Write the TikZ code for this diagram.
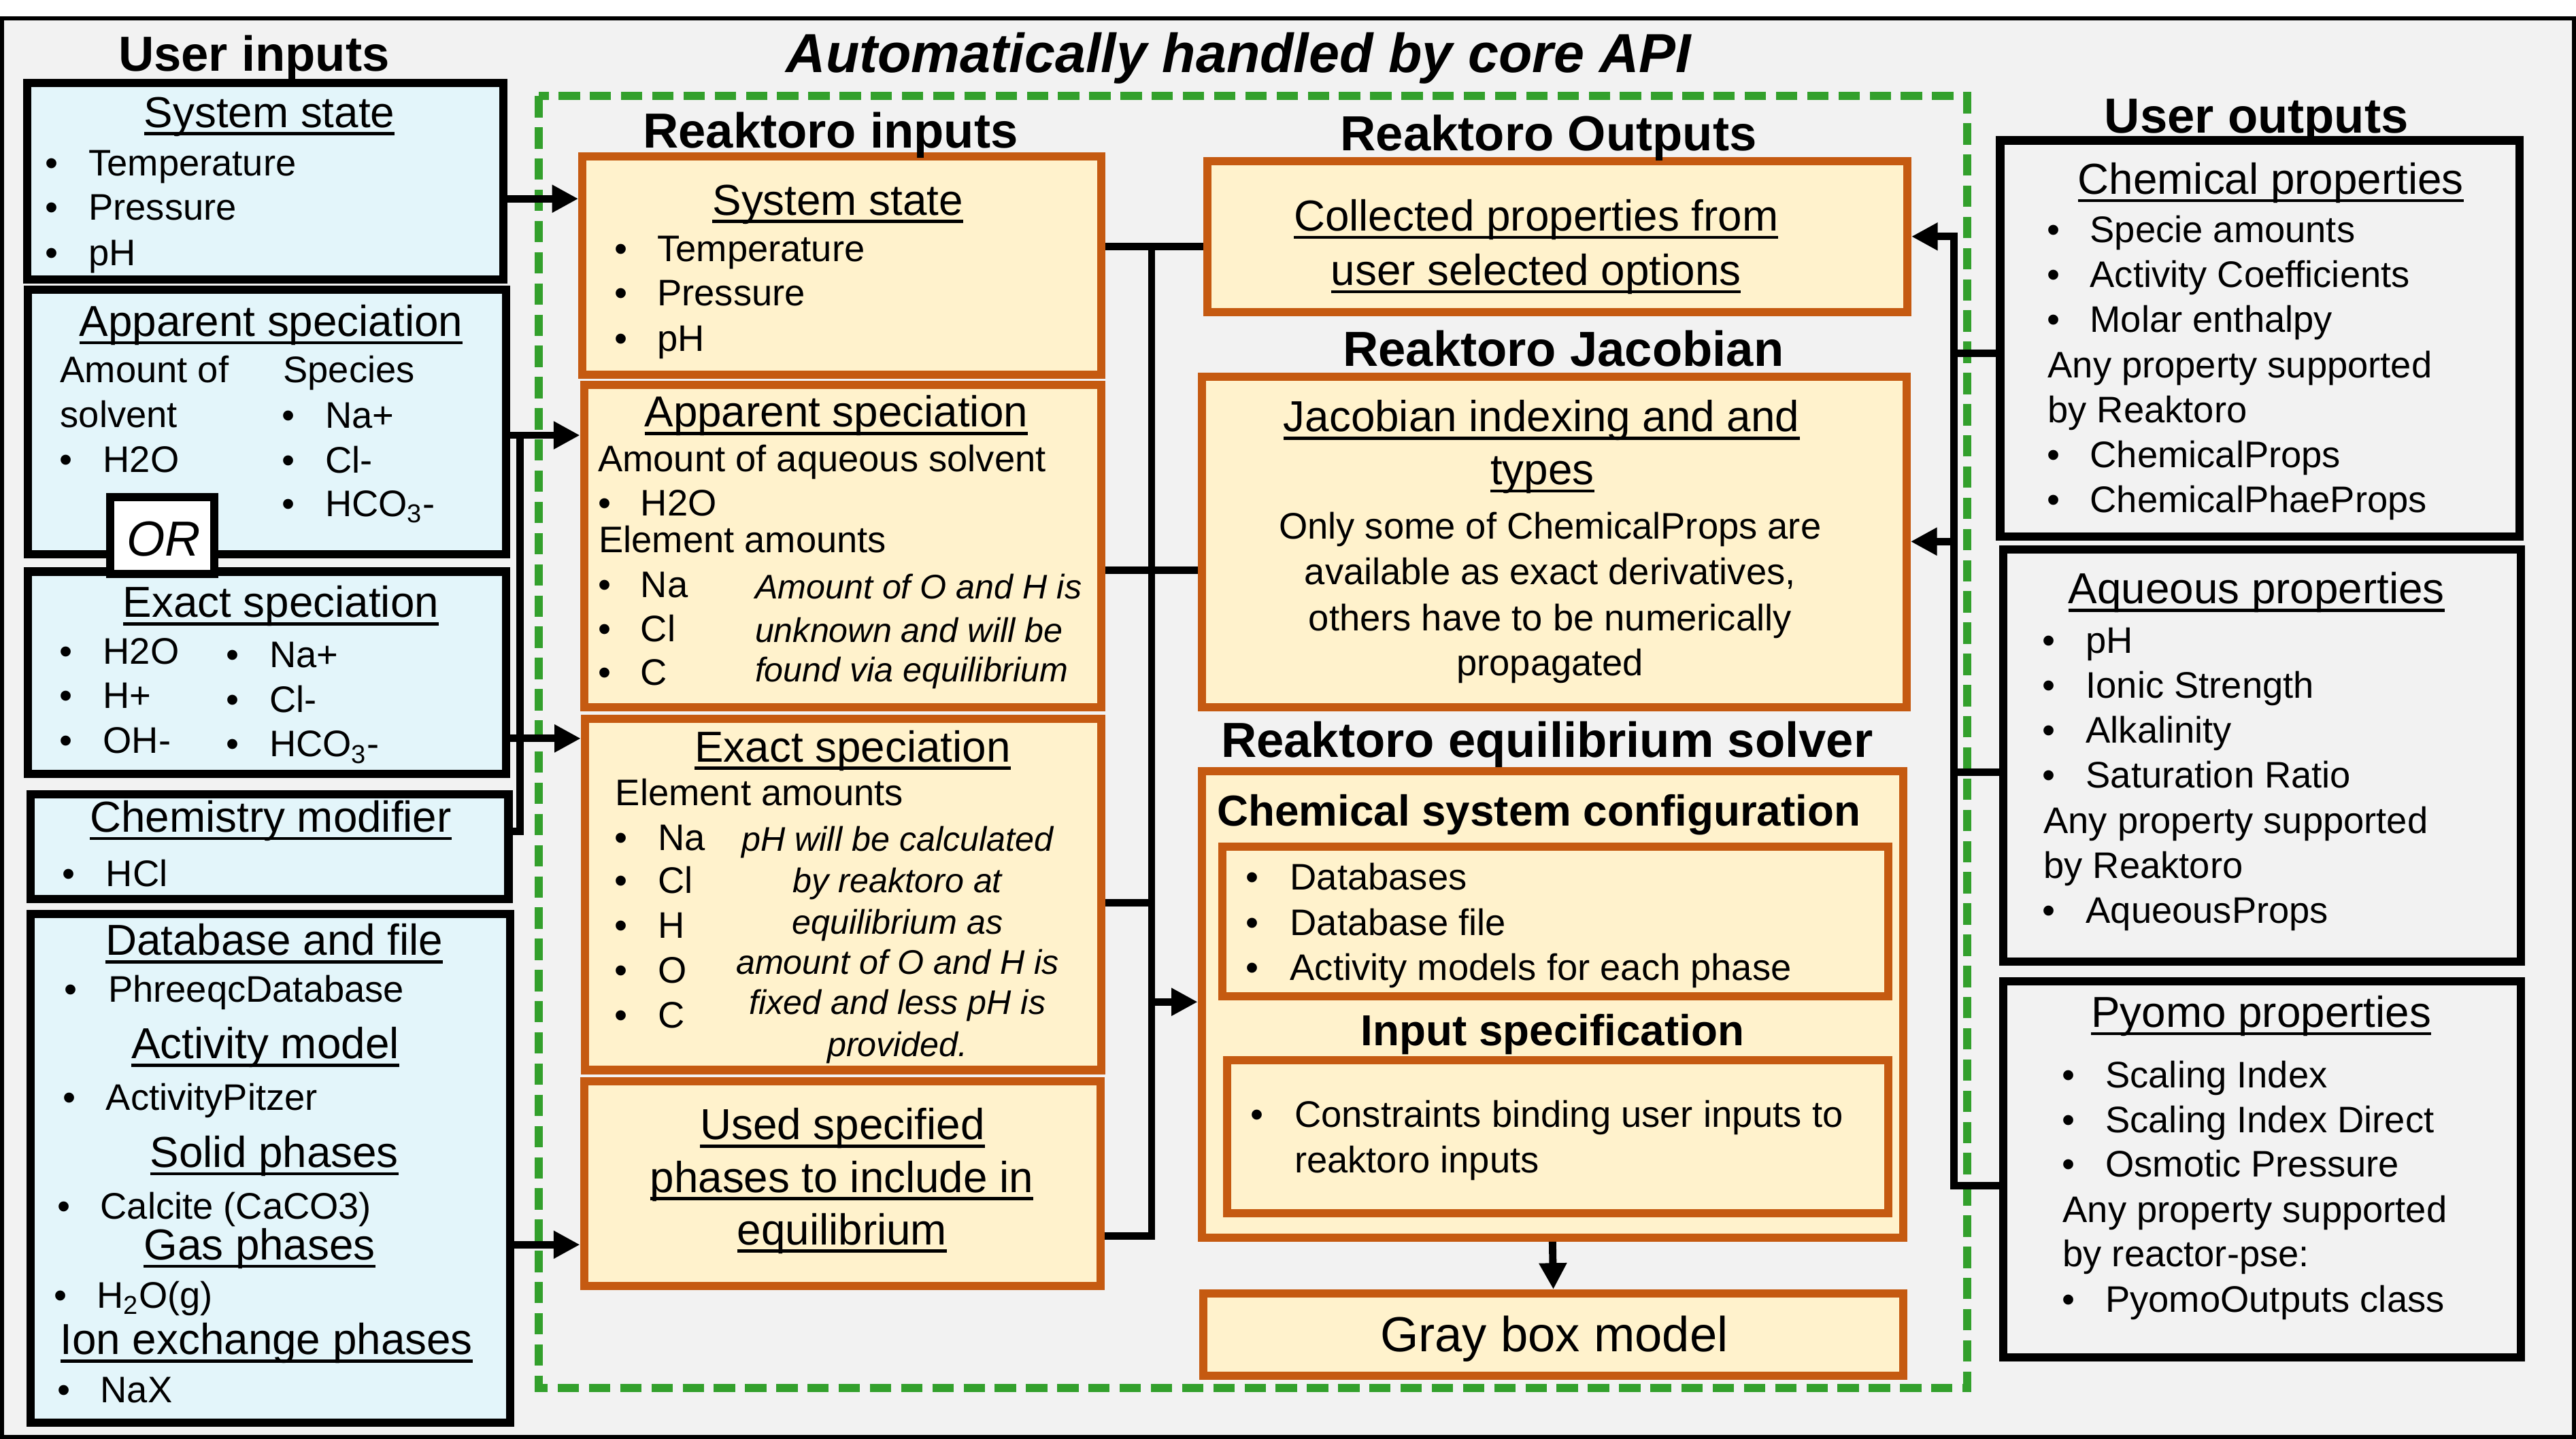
\documentclass[tikz,border=0pt]{standalone}
\usepackage{fontspec}
\setmainfont{Liberation Sans}
\usetikzlibrary{arrows.meta,calc}
\definecolor{bgc}{HTML}{F2F2F2}
\definecolor{ublue}{HTML}{E3F5FA}
\definecolor{orng}{HTML}{C55A11}
\definecolor{cream}{HTML}{FFF2CC}
\definecolor{grn}{HTML}{33A02C}
\newcommand\myul[1]{\setbox0\hbox{#1}\rlap{\rule[-0.185em]{\wd0}{0.07em}}\box0}
\newcommand\bx[6]{\node[#1,minimum width={#5-#3},minimum height={#6-#4}] (#2) at ({(#3+#5)/2},{(#4+#6)/2}) {};}
\newcommand\tw[5]{\node[#1,anchor=west] (#2) at (#3,#4) {#5};}
\newcommand\tcn[5]{\node[#1] (#2) at (#3,#4) {#5};}
\newcommand\bu[5]{\node[tbody] (#1b) at (#2,#4) {•};\node[tbody,anchor=west] (#1) at (#3,#4) {#5};}
\tikzset{
 tbody/.style={inner sep=0pt,outer sep=0pt,text height=16.1pt,text depth=0pt,font=\fontsize{22.5}{27}\selectfont},
 tital/.style={inner sep=0pt,outer sep=0pt,text height=14.9pt,text depth=0pt,font=\fontsize{20.8}{25}\selectfont\itshape},
 tsub/.style={inner sep=0pt,outer sep=0pt,text height=18.9pt,text depth=0pt,font=\fontsize{26.4}{32}\selectfont},
 tsubb/.style={inner sep=0pt,outer sep=0pt,text height=18.9pt,text depth=0pt,font=\fontsize{26.4}{32}\selectfont\bfseries},
 thead/.style={inner sep=0pt,outer sep=0pt,text height=21.5pt,text depth=0pt,font=\fontsize{30}{36}\selectfont\bfseries},
 ubox/.style={draw=black,line width=5pt,fill=ublue,inner sep=0pt},
 orbox/.style={draw=black,line width=5pt,fill=white,inner sep=0pt},
 obox/.style={draw=orng,line width=5pt,fill=cream,inner sep=0pt},
 rbox/.style={draw=black,line width=5pt,inner sep=0pt},
 lnw/.style={line width=4.5pt},
 arrw/.style={line width=4.5pt,-{Triangle[length=16pt,width=16pt]}},
}
\begin{document}
\begin{tikzpicture}[x=1pt,y=-1pt]
\useasboundingbox (0,0) rectangle (1568,876);
\fill[white] (0,0) rectangle (1568,876);
\draw[line width=2.5pt,fill=bgc] (1.25,11.25) rectangle (1566.75,874.75);
\draw[grn,line width=5pt,dash pattern=on 13pt off 6pt] (328,58.5) rectangle (1197.5,845);

% boxes
\bx{ubox}{uss}{16.5}{50.5}{306.5}{170}
\bx{ubox}{uap}{17}{176.5}{308}{337.5}
\bx{ubox}{uex}{17}{348}{308}{471}
\bx{ubox}{ucm}{18.5}{483.5}{309.5}{547.5}
\bx{ubox}{udb}{18.5}{556.5}{310.5}{866}
\bx{orbox}{orb}{67}{302.5}{130.5}{349.5}
\bx{obox}{rss}{354.5}{95.3}{670.5}{228}
\bx{obox}{rap}{355.5}{234.5}{670.5}{430.5}
\bx{obox}{rex}{356}{437.5}{670.5}{651.5}
\bx{obox}{rus}{355.5}{658.5}{670}{783}
\bx{obox}{rco}{735}{98}{1161}{190}
\bx{obox}{rjac}{731.5}{229.5}{1160.5}{430.5}
\bx{obox}{rsol}{731.5}{469.5}{1158.5}{753.5}
\bx{obox}{rcfg}{744}{515.5}{1149.5}{606.5}
\bx{obox}{rinp}{747}{645.5}{1149.5}{738.5}
\bx{obox}{rgb}{732.5}{787.5}{1158.5}{837.5}
\bx{rbox}{uchem}{1217.5}{85.5}{1533.5}{326.5}
\bx{rbox}{uaq}{1219.5}{334.5}{1534.5}{585.5}
\bx{rbox}{upy}{1219.5}{597.5}{1534.5}{826.5}

% connector coordinates
\coordinate (l1) at (0,121);
\coordinate (l2) at (316.5,265);
\coordinate (l3) at (316.5,506);
\coordinate (l4) at (0,449.6);
\coordinate (l5) at (0,757.8);
\coordinate (m1) at (701,150);
\coordinate (m2) at (701,347);
\coordinate (m3) at (701,549.5);
\coordinate (m4) at (701,610);
\coordinate (m5) at (701,752.6);
\coordinate (r1) at (1189.5,144);
\coordinate (r2) at (1189.5,215);
\coordinate (r3) at (1189.5,329.7);
\coordinate (r4) at (1189.5,470);
\coordinate (r5) at (1189.5,722);

% left connectors
\draw[arrw] (uss.east |- l1) -- (rss.west |- l1);
\draw[arrw] (uap.east |- l2) -- (rap.west |- l2);
\draw[lnw,line join=miter] (ucm.east |- l3) -- (l3) -- (l2);
\draw[arrw] (uex.east |- l4) -- (rex.west |- l4);
\draw[arrw] (udb.east |- l5) -- (rus.west |- l5);
% middle bus
\draw[lnw,line cap=rect] (m1) -- (m5);
\draw[lnw] (rss.east |- m1) -- (rco.west |- m1);
\draw[lnw] (rap.east |- m2) -- (rjac.west |- m2);
\draw[lnw] (rex.east |- m3) -- (m3);
\draw[lnw] (rus.east |- m5) -- (m5);
\draw[arrw] (m4) -- (rsol.west |- m4);
\draw[arrw] (rsol.south) -- (rgb.north);
% right bus
\draw[lnw,line cap=rect] (r1) -- (r5);
\draw[arrw] (r1) -- (rco.east |- r1);
\draw[arrw] (r3) -- (rjac.east |- r3);
\draw[lnw] (uchem.west |- r2) -- (r2);
\draw[lnw] (uaq.west |- r4) -- (r4);
\draw[lnw] (upy.west |- r5) -- (r5);

% headings
\tcn{thead}{h1}{154.6}{32.7}{User inputs}
\node[inner sep=0pt,text height=24pt,text depth=0pt,font=\fontsize{33.5}{40}\selectfont\bfseries\itshape] (h2) at (754,32) {Automatically handled by core API};
\tcn{thead}{h3}{1373.5}{70}{User outputs}
\tcn{thead}{h4}{505.5}{79.5}{Reaktoro inputs}
\tcn{thead}{h5}{942.6}{81}{Reaktoro Outputs}
\tcn{thead}{h6}{951.6}{212.4}{Reaktoro Jacobian}
\tcn{thead}{h7}{941.6}{450.3}{Reaktoro equilibrium solver}
\tcn{tsubb}{h8}{936.7}{493.6}{Chemical system configuration}
\tcn{tsubb}{h9}{945.1}{627.2}{Input specification}

% user inputs
\tcn{tsub}{a0}{164}{68}{\myul{System state}}
\bu{a1}{31.6}{54}{98.8}{Temperature}
\bu{a2}{31.6}{54}{125.7}{Pressure}
\bu{a3}{31.6}{54}{153.7}{pH}

\tcn{tsub}{b0}{165}{195.3}{\myul{Apparent speciation}}
\tw{tbody}{b1}{36.7}{225}{Amount of}
\tw{tbody}{b2}{36.7}{252}{solvent}
\bu{b3}{40}{62.8}{279.5}{H2O}
\tw{tbody}{b4}{172.4}{225}{Species}
\bu{b5}{175.5}{198}{252.5}{Na+}
\bu{b6}{175.5}{198}{280}{Cl-}
\bu{b7}{175.5}{198}{306.4}{HCO\textsubscript{3}-}

\node[inner sep=0pt,text height=21.5pt,text depth=0pt,font=\fontsize{30}{36}\selectfont\itshape] (ortx) at (99.7,327.6) {OR};

\tcn{tsub}{c0}{171}{366.4}{\myul{Exact speciation}}
\bu{c1}{40.2}{62.8}{396.4}{H2O}
\bu{c2}{40.2}{62.8}{423.2}{H+}
\bu{c3}{40.2}{62.8}{450.5}{OH-}
\bu{c4}{141.5}{164}{398.3}{Na+}
\bu{c5}{141.5}{164}{425.8}{Cl-}
\bu{c6}{141.5}{164}{452.7}{HCO\textsubscript{3}-}

\tcn{tsub}{d0}{164.8}{497}{\myul{Chemistry modifier}}
\bu{d1}{41.9}{64.5}{531.6}{HCl}

\tcn{tsub}{e0}{167}{572.2}{\myul{Database and file}}
\bu{e1}{42.9}{65.9}{602}{PhreeqcDatabase}
\tcn{tsub}{e2}{161.5}{635.2}{\myul{Activity model}}
\bu{e3}{42.2}{64.5}{667.9}{ActivityPitzer}
\tcn{tsub}{e4}{167}{701.2}{\myul{Solid phases}}
\bu{e5}{38.8}{61.1}{734.2}{Calcite (CaCO3)}
\tcn{tsub}{e6}{158}{757.5}{\myul{Gas phases}}
\bu{e7}{36.7}{59}{788.4}{H\textsubscript{2}O(g)}
\tcn{tsub}{e8}{162.2}{815.3}{\myul{Ion exchange phases}}
\bu{e9}{38.8}{61.1}{846}{NaX}

% reaktoro inputs
\tcn{tsub}{f0}{510}{121.4}{\myul{System state}}
\bu{f1}{378}{400.1}{151.2}{Temperature}
\bu{f2}{378}{400.1}{178.1}{Pressure}
\bu{f3}{378}{400.1}{205.8}{pH}

\tcn{tsub}{g0}{509}{250.5}{\myul{Apparent speciation}}
\tw{tbody}{g1}{364}{279.1}{Amount of aqueous solvent}
\bu{g2}{368}{390}{306}{H2O}
\tw{tbody}{g3}{364.5}{328.3}{Element amounts}
\bu{g4}{368}{390}{355.5}{Na}
\bu{g5}{368}{390}{382.4}{Cl}
\bu{g6}{368}{390}{409.3}{C}
\tw{tital}{g7}{459.6}{357}{Amount of O and H is}
\tw{tital}{g8}{459.6}{383.7}{unknown and will be}
\tw{tital}{g9}{459.6}{407.8}{found via equilibrium}

\tcn{tsub}{k0}{519}{454.3}{\myul{Exact speciation}}
\tw{tbody}{k1}{374.7}{482.3}{Element amounts}
\bu{k2}{378}{400.6}{509.6}{Na}
\bu{k3}{378}{400.6}{535.9}{Cl}
\bu{k4}{378}{400.6}{563.2}{H}
\bu{k5}{378}{400.6}{590.5}{O}
\bu{k6}{378}{400.6}{617.8}{C}
\tcn{tital}{k7}{546.3}{510.8}{pH will be calculated}
\tcn{tital}{k8}{546.3}{535.9}{by reaktoro at}
\tcn{tital}{k9}{546.3}{561.3}{equilibrium as}
\tcn{tital}{k10}{546.3}{585.6}{amount of O and H is}
\tcn{tital}{k11}{546.3}{610}{fixed and less pH is}
\tcn{tital}{k12}{546.3}{635.9}{provided.}

\tcn{tsub}{n0}{512.8}{684.4}{\myul{Used specified}}
\tcn{tsub}{n1}{512.4}{716.4}{\myul{phases to include in}}
\tcn{tsub}{n2}{512.6}{748.3}{\myul{equilibrium}}

% reaktoro outputs / jacobian
\tcn{tsub}{p0}{935}{131}{\myul{Collected properties from}}
\tcn{tsub}{p1}{935}{164.3}{\myul{user selected options}}
\tcn{tsub}{q0}{938.3}{253.4}{\myul{Jacobian indexing and and}}
\tcn{tsub}{q1}{938.8}{285.6}{\myul{types}}
\tcn{tbody}{q2}{943.5}{320}{Only some of ChemicalProps are}
\tcn{tbody}{q3}{943.5}{347.8}{available as exact derivatives,}
\tcn{tbody}{q4}{943.5}{375.9}{others have to be numerically}
\tcn{tbody}{q5}{943.5}{403.2}{propagated}

% solver
\bu{s1}{762.3}{785.3}{533.8}{Databases}
\bu{s2}{762.3}{785.3}{561.4}{Database file}
\bu{s3}{762.3}{785.3}{588.6}{Activity models for each phase}
\bu{s4}{765}{788}{678.3}{Constraints binding user inputs to}
\tw{tbody}{s5}{788}{705.9}{reaktoro inputs}
\node[inner sep=0pt,text height=21.5pt,text depth=0pt,font=\fontsize{30}{36}\selectfont] (gbt) at (946,812.3) {Gray box model};

% user outputs
\tcn{tsub}{u0}{1382.2}{108.8}{\myul{Chemical properties}}
\bu{u1}{1250.2}{1272.2}{139.4}{Specie amounts}
\bu{u2}{1250.2}{1272.2}{166.8}{Activity Coefficients}
\bu{u3}{1250.2}{1272.2}{194.3}{Molar enthalpy}
\tw{tbody}{u4}{1246.5}{221.8}{Any property supported}
\tw{tbody}{u5}{1246.5}{249.3}{by Reaktoro}
\bu{u6}{1250.2}{1272.2}{276.6}{ChemicalProps}
\bu{u7}{1250.2}{1272.2}{303.8}{ChemicalPhaeProps}

\tcn{tsub}{v0}{1373.5}{358.1}{\myul{Aqueous properties}}
\bu{v1}{1247}{1269.7}{389.7}{pH}
\bu{v2}{1247}{1269.7}{416.9}{Ionic Strength}
\bu{v3}{1247}{1269.7}{444.3}{Alkalinity}
\bu{v4}{1247}{1269.7}{471.8}{Saturation Ratio}
\tw{tbody}{v5}{1244}{499.2}{Any property supported}
\tw{tbody}{v6}{1244}{526.6}{by Reaktoro}
\bu{v7}{1247}{1269.7}{553.9}{AqueousProps}

\tcn{tsub}{w0}{1376.4}{616}{\myul{Pyomo properties}}
\bu{w1}{1259.3}{1281.6}{654.3}{Scaling Index}
\bu{w2}{1259.3}{1281.6}{681.6}{Scaling Index Direct}
\bu{w3}{1259.3}{1281.6}{708.3}{Osmotic Pressure}
\tw{tbody}{w4}{1255.6}{736.3}{Any property supported}
\tw{tbody}{w5}{1255.6}{763.3}{by reactor-pse:}
\bu{w6}{1259.3}{1281.6}{790.9}{PyomoOutputs class}
\end{tikzpicture}
\end{document}
